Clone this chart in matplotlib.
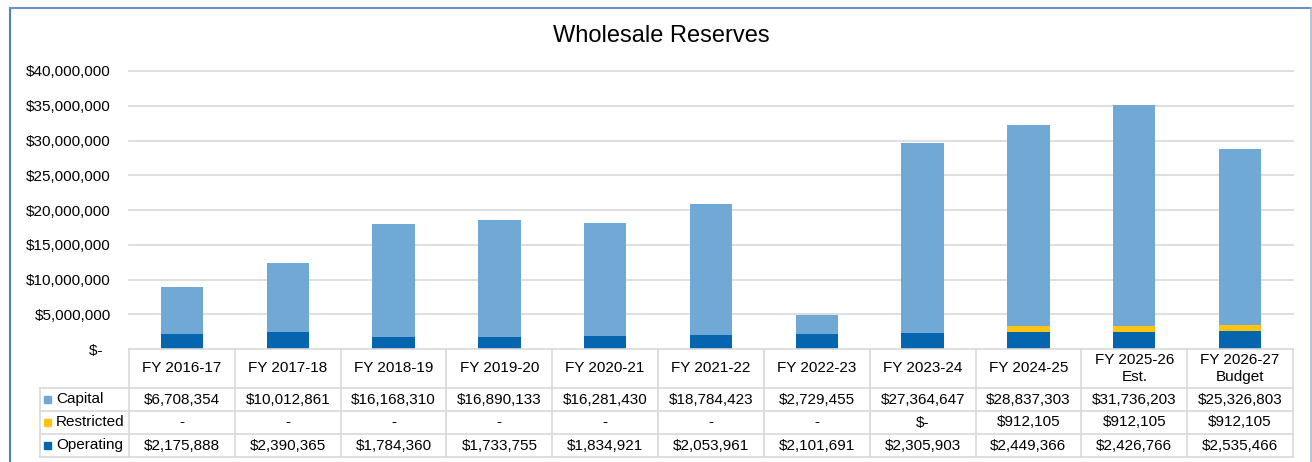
import numpy as np
import matplotlib.pyplot as plt

plt.rcParams['font.family'] = ['Liberation Sans', 'DejaVu Sans']

years = ['FY 2016-17', 'FY 2017-18', 'FY 2018-19', 'FY 2019-20', 'FY 2020-21',
         'FY 2021-22', 'FY 2022-23', 'FY 2023-24', 'FY 2024-25',
         'FY 2025-26\nEst.', 'FY 2026-27\nBudget']
capital = [6708354, 10012861, 16168310, 16890133, 16281430, 18784423,
           2729455, 27364647, 28837303, 31736203, 25326803]
# None = shown as "-" in the table, 0 = shown as "$-"
restricted = [None, None, None, None, None, None, None, 0, 912105, 912105, 912105]
operating = [2175888, 2390365, 1784360, 1733755, 1834921, 2053961,
             2101691, 2305903, 2449366, 2426766, 2535466]

c_cap, c_res, c_op = '#71A9D6', '#FFC314', '#0565AF'
grid_c = '#D9D9D9'
fs = 11

W, H = 1312, 462
fig = plt.figure(figsize=(W / 100, H / 100), dpi=100)

# plot area in pixels
x0, x1, ytop, ybot = 129, 1293, 71, 349
ax = fig.add_axes([x0 / W, 1 - ybot / H, (x1 - x0) / W, (ybot - ytop) / H])

n = len(years)
x = np.arange(n)
res = np.array([r or 0 for r in restricted], dtype=float)
op = np.array(operating, dtype=float)
cap = np.array(capital, dtype=float)
bw = 0.4
ax.bar(x, op, bw, color=c_op, zorder=3)
ax.bar(x, res, bw, bottom=op, color=c_res, zorder=3)
ax.bar(x, cap, bw, bottom=op + res, color=c_cap, zorder=3)

ax.set_xlim(-0.5, n - 0.5)
ax.set_ylim(0, 40e6)
yt = np.arange(0, 40e6 + 1, 5e6)
ax.set_yticks(yt)
ax.set_yticklabels([f'${v:,.0f}' if v else '$-  ' for v in yt])
ax.tick_params(axis='y', length=0, pad=13, labelsize=fs)
ax.set_xticks([])
for s in ax.spines.values():
    s.set_visible(False)
for v in yt[1:]:
    ax.axhline(v, color=grid_c, lw=1.2, zorder=1, clip_on=False)

fig.text(661 / W, 1 - 36 / H, 'Wholesale Reserves', ha='center', va='center', fontsize=17)

# data table drawn in pixel coordinates
tab = fig.add_axes([0, 0, 1, 1], zorder=5)
tab.set_xlim(0, W)
tab.set_ylim(H, 0)
tab.axis('off')
tab.patch.set_alpha(0)

edges = np.linspace(x0, x1, n + 1)
rows = [349, 388, 411, 434, 457]
lx = 40
lc = dict(color=grid_c, lw=1.2)
tab.plot([x0, x1], [rows[0], rows[0]], **lc)
for r in rows[1:]:
    tab.plot([lx, x1], [r, r], **lc)
for e in edges:
    tab.plot([e, e], [rows[0], rows[-1]], **lc)
tab.plot([lx, lx], [rows[1], rows[-1]], **lc)

cx = (edges[:-1] + edges[1:]) / 2
for i, y in enumerate(years):
    tab.text(cx[i], (rows[0] + rows[1]) / 2, y, ha='center', va='center',
             fontsize=fs, linespacing=1.25)

def fmt(v):
    if v is None:
        return '-'
    if v == 0:
        return '$-'
    return f'${v:,.0f}'

series = [('Capital', capital, c_cap), ('Restricted', restricted, c_res),
          ('Operating', operating, c_op)]
for k, (name, vals, col) in enumerate(series):
    yc = (rows[k + 1] + rows[k + 2]) / 2
    tab.add_patch(plt.Rectangle((44, yc - 3.5), 7, 7, color=col))
    tab.text(56, yc, name, ha='left', va='center', fontsize=fs)
    for i, v in enumerate(vals):
        tab.text(cx[i], yc, fmt(v), ha='center', va='center', fontsize=fs)

# chart border
tab.plot([9.5, 9.5], [8, H], color='#4F81BD', lw=1.5)
tab.plot([9.5, 1311], [8, 8], color='#6A93C9', lw=1.5)
tab.plot([1311, 1311], [8, H], color='#A9B8CC', lw=1.2)

fig.savefig('out.png', dpi=100)
